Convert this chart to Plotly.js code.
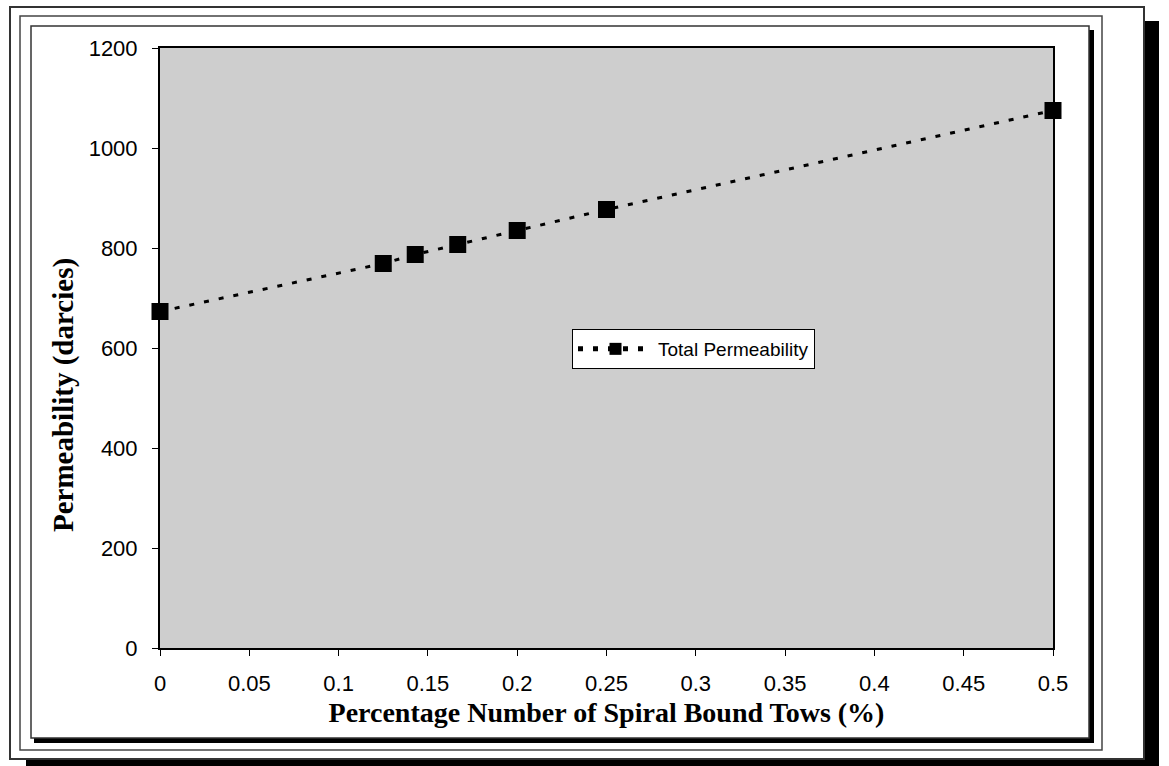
<!DOCTYPE html>
<html>
<head>
<meta charset="utf-8">
<script src="https://cdn.plot.ly/plotly-3.0.1.min.js"></script>
<style>
  html, body { margin: 0; padding: 0; background: #ffffff; }
  #chart { width: 1169px; height: 766px; }
</style>
</head>
<body>
<div id="chart"></div>
<script>
// Data
const spiralPct = [0, 0.125, 0.1429, 0.1667, 0.2, 0.25, 0.5];
const permeability = [673, 769, 787, 807, 835, 877, 1075];
const seriesName = 'Total Permeability';
const xTicks = [0, 0.05, 0.1, 0.15, 0.2, 0.25, 0.3, 0.35, 0.4, 0.45, 0.5];
const xTickText = ['0', '0.05', '0.1', '0.15', '0.2', '0.25', '0.3', '0.35', '0.4', '0.45', '0.5'];
const yTicks = [0, 200, 400, 600, 800, 1000, 1200];

// Layout geometry (pixels)
const W = 1169, H = 766;
const M = { l: 160, r: 116, t: 48, b: 118 };
const PW = W - M.l - M.r, PH = H - M.t - M.b;
const px = v => (v - M.l) / PW;
const py = v => (H - M.b - v) / PH;

function rectLine(x0, y0, x1, y1, w, c) {
  return { type: 'rect', xref: 'paper', yref: 'paper',
    x0: px(x0), x1: px(x1), y0: py(y1), y1: py(y0),
    line: { color: c, width: w }, fillcolor: 'rgba(0,0,0,0)' };
}
function rectFill(x0, y0, x1, y1, c) {
  return { type: 'rect', xref: 'paper', yref: 'paper',
    x0: px(x0), x1: px(x1), y0: py(y1), y1: py(y0),
    line: { width: 0 }, fillcolor: c };
}

const shapes = [
  // outer frame + drop shadow
  rectFill(1145, 21, 1159, 766, '#000000'),
  rectFill(26, 760, 1159, 766, '#000000'),
  rectLine(10, 7, 1144, 759, 2, '#333333'),
  // middle frame
  rectLine(20, 16, 1102, 750, 1.5, '#444444'),
  // inner frame + shadow
  rectFill(1089, 30, 1094, 743, '#000000'),
  rectFill(34, 738, 1094, 743, '#000000'),
  rectLine(31, 26, 1089, 738, 1.5, '#333333')
];

const trace = {
  x: spiralPct,
  y: permeability,
  name: seriesName,
  type: 'scatter',
  mode: 'lines+markers',
  line: { color: '#000000', width: 3, dash: '5px,10px' },
  marker: { symbol: 'square', size: 17, color: '#000000', line: { color: '#000000', width: 0 } },
  showlegend: true,
  cliponaxis: false
};

const layout = {
  width: W, height: H,
  margin: M,
  paper_bgcolor: '#ffffff',
  plot_bgcolor: '#cecece',
  font: { family: 'Arial, "Liberation Sans", sans-serif', color: '#000000', size: 22 },
  xaxis: {
    range: [0, 0.5],
    tickvals: xTicks,
    ticktext: xTickText,
    ticks: 'outside', ticklen: 6, tickwidth: 1, tickcolor: '#000000',
    ticklabelstandoff: 9,
    showline: true, linecolor: '#000000', linewidth: 2, mirror: true,
    showgrid: false, zeroline: false,
    tickfont: { size: 22, family: 'Arial, "Liberation Sans", sans-serif' },
    title: { text: 'Percentage Number of Spiral Bound Tows (%)',
      font: { family: '"Times New Roman", "Liberation Serif", serif', size: 28, weight: 'bold' },
      standoff: 7 },
    automargin: false
  },
  yaxis: {
    range: [0, 1200],
    tickvals: yTicks,
    ticks: 'outside', ticklen: 6, tickwidth: 1, tickcolor: '#000000',
    ticklabelstandoff: 10,
    showline: true, linecolor: '#000000', linewidth: 2, mirror: true,
    showgrid: false, zeroline: false,
    tickfont: { size: 22, family: 'Arial, "Liberation Sans", sans-serif' },
    automargin: false
  },
  showlegend: true,
  legend: {
    x: px(572), y: py(329), xanchor: 'left', yanchor: 'top',
    bgcolor: '#ffffff', bordercolor: '#000000', borderwidth: 1,
    font: { size: 19, family: 'Arial, "Liberation Sans", sans-serif' },
    itemsizing: 'constant',
    itemwidth: 75
  },
  annotations: [{
    text: 'Permeability (darcies)',
    xref: 'paper', yref: 'paper',
    x: px(63), y: py(395),
    xanchor: 'center', yanchor: 'middle',
    textangle: -90, showarrow: false,
    font: { family: '"Times New Roman", "Liberation Serif", serif', size: 29, weight: 'bold', color: '#000000' }
  }],
  shapes: shapes
};

Plotly.newPlot('chart', [trace], layout, { displayModeBar: false, staticPlot: true });
</script>
</body>
</html>
